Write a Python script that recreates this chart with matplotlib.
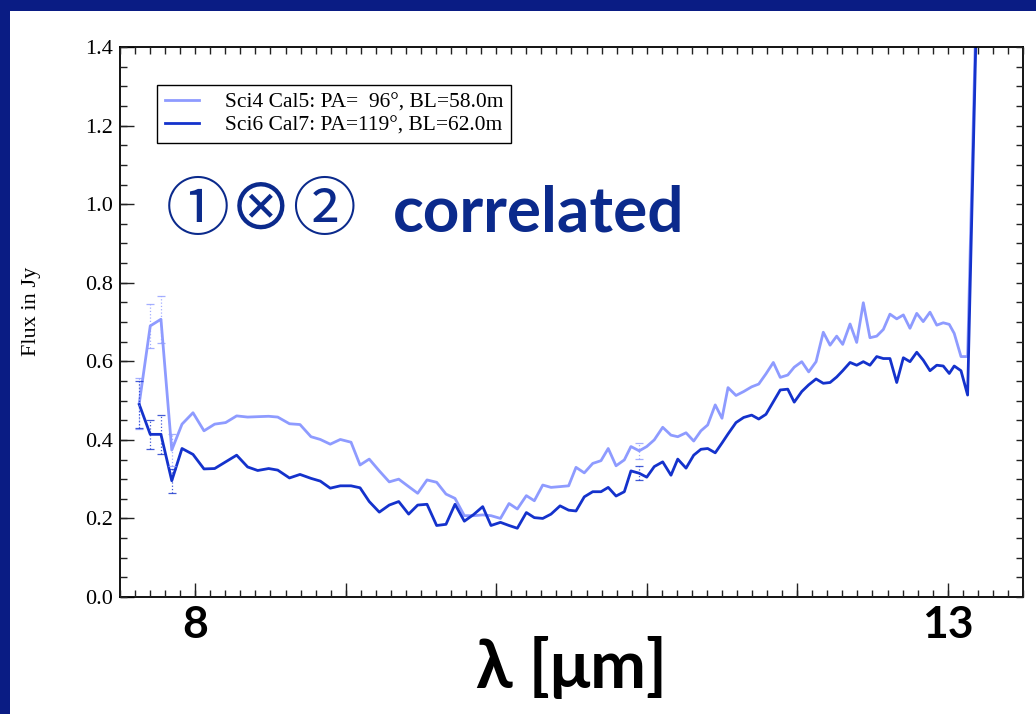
import matplotlib
matplotlib.use("Agg")
import matplotlib.pyplot as plt
import numpy as np
from matplotlib.patches import Rectangle

# spectral channels (micron) shared by both baselines
wavelength = [
    7.628, 7.701, 7.772, 7.844, 7.912, 7.985, 8.058, 8.129, 8.202, 8.275,
    8.348, 8.415, 8.488, 8.548, 8.626, 8.696, 8.769, 8.831, 8.897, 8.964,
    9.035, 9.095, 9.156, 9.223, 9.289, 9.352, 9.418, 9.478, 9.540, 9.604,
    9.666, 9.726, 9.788, 9.850, 9.910, 9.965, 10.028, 10.085, 10.140, 10.200,
    10.253, 10.309, 10.364, 10.424, 10.481, 10.530, 10.585, 10.641, 10.696, 10.744,
    10.796, 10.851, 10.895, 10.950, 11.000, 11.050, 11.106, 11.161, 11.206, 11.261,
    11.312, 11.360, 11.405, 11.455, 11.500, 11.540, 11.593, 11.644, 11.697, 11.744,
    11.792, 11.841, 11.887, 11.937, 11.980, 12.030, 12.076, 12.125, 12.173, 12.218,
    12.262, 12.302, 12.351, 12.395, 12.439, 12.483, 12.528, 12.572, 12.616, 12.661,
    12.705, 12.749, 12.794, 12.837, 12.882, 12.927, 12.970, 13.010, 13.043, 13.088,
    13.132, 13.201,
]

flux_sci4 = [
    0.493, 0.690, 0.707, 0.374, 0.440, 0.469, 0.423, 0.440, 0.444, 0.461,
    0.458, 0.459, 0.460, 0.458, 0.441, 0.439, 0.408, 0.401, 0.389, 0.401,
    0.394, 0.336, 0.351, 0.321, 0.293, 0.300, 0.281, 0.264, 0.298, 0.292,
    0.262, 0.251, 0.207, 0.207, 0.209, 0.207, 0.200, 0.238, 0.224, 0.258,
    0.245, 0.285, 0.279, 0.281, 0.283, 0.330, 0.316, 0.340, 0.347, 0.378,
    0.334, 0.349, 0.383, 0.372, 0.383, 0.400, 0.432, 0.412, 0.408, 0.418,
    0.397, 0.423, 0.438, 0.489, 0.455, 0.533, 0.513, 0.523, 0.535, 0.542,
    0.568, 0.597, 0.559, 0.565, 0.585, 0.599, 0.573, 0.599, 0.674, 0.641,
    0.664, 0.643, 0.695, 0.648, 0.749, 0.660, 0.664, 0.681, 0.720, 0.708,
    0.718, 0.684, 0.722, 0.701, 0.725, 0.692, 0.698, 0.694, 0.671, 0.612,
    0.612, 1.70,
]

flux_sci6 = [
    0.490, 0.414, 0.414, 0.296, 0.378, 0.363, 0.326, 0.327, 0.344, 0.361,
    0.331, 0.322, 0.327, 0.323, 0.303, 0.312, 0.302, 0.295, 0.277, 0.283,
    0.283, 0.278, 0.243, 0.216, 0.234, 0.243, 0.211, 0.234, 0.236, 0.182,
    0.185, 0.236, 0.193, 0.210, 0.230, 0.182, 0.190, 0.182, 0.175, 0.215,
    0.202, 0.200, 0.211, 0.232, 0.221, 0.219, 0.255, 0.268, 0.268, 0.279,
    0.257, 0.268, 0.321, 0.315, 0.305, 0.332, 0.344, 0.310, 0.351, 0.328,
    0.361, 0.376, 0.378, 0.367, 0.392, 0.415, 0.444, 0.457, 0.463, 0.453,
    0.465, 0.497, 0.527, 0.529, 0.496, 0.523, 0.540, 0.555, 0.544, 0.546,
    0.560, 0.576, 0.597, 0.590, 0.599, 0.590, 0.612, 0.607, 0.607, 0.546,
    0.609, 0.599, 0.623, 0.603, 0.576, 0.590, 0.588, 0.569, 0.588, 0.576,
    0.514, 1.65,
]

# channels carrying error bars and their half-widths
err_index = [0, 1, 2, 3, 53]
err_sci4 = [0.065, 0.055, 0.060, 0.040, 0.021]
err_sci6 = [0.060, 0.037, 0.050, 0.030, 0.018]

label_sci4 = "Sci4 Cal5: PA=  96°, BL=58.0m"
label_sci6 = "Sci6 Cal7: PA=119°, BL=62.0m"

x_major = [8, 9, 10, 11, 12, 13]
x_labels = ["8", "", "", "", "", "13"]
y_major = [0.0, 0.2, 0.4, 0.6, 0.8, 1.0, 1.2, 1.4]
y_labels = ["0.0", "0.2", "0.4", "0.6", "0.8", "1.0", "1.2", "1.4"]

light = "#8e9bff"
dark = "#1432cc"
navy = "#0b2a8c"
tick_col = "#222222"

fig = plt.figure(figsize=(10.36, 7.14), dpi=100, facecolor="#0a1c84")
fig.patches.append(Rectangle((10 / 1036, 0), 1, (714 - 11) / 714,
                             transform=fig.transFigure, facecolor="white",
                             edgecolor="none", zorder=-10))

ax = fig.add_axes([120 / 1036, 117 / 714, 903 / 1036, 550 / 714])

ax.plot(wavelength, flux_sci4, color=light, lw=2.0, label=label_sci4)
ax.plot(wavelength, flux_sci6, color=dark, lw=2.0, label=label_sci6)

for flux, err, col in [(flux_sci4, err_sci4, light), (flux_sci6, err_sci6, dark)]:
    xs = [wavelength[i] for i in err_index]
    ys = [flux[i] for i in err_index]
    eb = ax.errorbar(xs, ys, yerr=err, fmt="none", ecolor=col, elinewidth=0.9,
                     capsize=3, capthick=0.9, alpha=0.8)
    eb[2][0].set_linestyle(":")

ax.set_xlim(7.5, 13.5)
ax.set_ylim(0.0, 1.4)
ax.set_xticks(x_major)
ax.set_xticklabels(x_labels, fontsize=32, fontweight="bold", family="Lato")
ax.set_yticks(y_major)
ax.set_yticklabels(y_labels, fontsize=16, family="Liberation Serif")
ax.tick_params(which="major", direction="in", top=True, right=True,
               bottom=True, left=True, color=tick_col, length=10, width=1.0)
ax.tick_params(axis="x", which="major", pad=6)
ax.tick_params(axis="y", which="major", pad=5)
for sp in ax.spines.values():
    sp.set_linewidth(1.3)

# fine ticks (0.1 micron, 0.05 Jy) carried by twin axes on all four sides
ax_fx = ax.twiny()
ax_fx.set_xlim(ax.get_xlim())
ax_fx.set_xticks(np.arange(7.5, 13.51, 0.1))
ax_fx.tick_params(axis="x", direction="in", length=5, width=1.0, color=tick_col,
                  top=True, bottom=True, labeltop=False, labelbottom=False)
ax_fy = ax.twinx()
ax_fy.set_ylim(ax.get_ylim())
ax_fy.set_yticks(np.arange(0.0, 1.401, 0.05))
ax_fy.tick_params(axis="y", direction="in", length=5, width=1.0, color=tick_col,
                  left=True, right=True, labelleft=False, labelright=False)
for twin in (ax_fx, ax_fy):
    for sp in twin.spines.values():
        sp.set_visible(False)

ax.set_ylabel("Flux in Jy", fontsize=16, family="Liberation Serif")
ax.yaxis.set_label_coords(-0.088, 0.52)
ax.set_xlabel("λ [μm]", fontsize=48, fontweight="bold",
              family=["Lato", "DejaVu Sans"], labelpad=-6)

leg = ax.legend(loc="upper left", bbox_to_anchor=(0.041, 0.931), borderaxespad=0,
                fancybox=False, edgecolor="black", framealpha=1,
                prop={"family": "Liberation Serif", "size": 15.5},
                handlelength=1.6, borderpad=0.35, labelspacing=0.15, handletextpad=1.2)
leg.get_frame().set_linewidth(1.0)

fig.text(166 / 1036, (714 - 230) / 714, "①⊗②", fontsize=46, color=navy,
         family=["Noto Sans CJK JP", "DejaVu Sans"], va="baseline")
fig.text(393 / 1036, (714 - 231) / 714, "correlated", fontsize=46, color=navy,
         fontweight="bold", family="Lato", va="baseline")

fig.savefig("out.png", dpi=100, facecolor=fig.get_facecolor())
